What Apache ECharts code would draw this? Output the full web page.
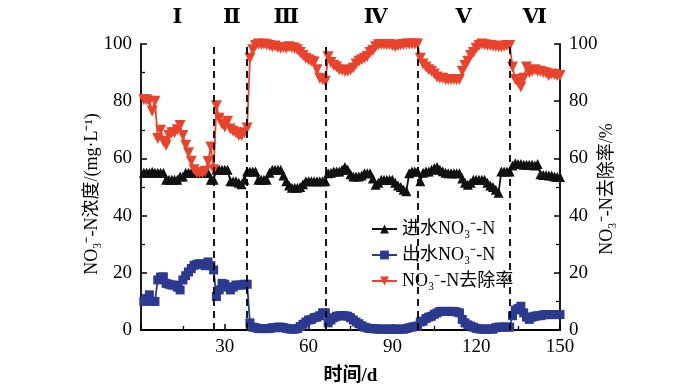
<!DOCTYPE html>
<html>
<head>
<meta charset="utf-8">
<script src="https://cdn.jsdelivr.net/npm/echarts@6/dist/echarts.min.js"></script>
<style>html,body{margin:0;padding:0;background:#fff}#c{width:700px;height:391px}</style>
</head>
<body>
<div id="c"></div>
<script>
// Days 1..150
var days = [];
for (var i = 1; i <= 150; i++) days.push(i);

// Influent NO3--N (mg/L)
var influent = [
55,55,55,55.3,55,55,55,55,52.5,52.5, 52.5,52.5,52.5,53.7,53.7,55,55,55,55,55,
55,55,55,55,52.5,52.5,56,56,56,56, 56,52,52,52,51.5,51,52.5,55.4,55.4,55.4,
55.4,52.5,52.5,52.5,52.5,55,56,56,56,56, 54,52,50.5,49.7,49.7,49.7,50,51,52,52,
52,52,52,52,52,52,54.8,55,55.4,55.4, 55.4,56,57,56,54.5,53.7,53.7,53.7,54,54.8,
54.8,54.8,53,50.8,51.5,52.5,52.5,52.5,52.5,52.5, 51.5,50.5,50,49,48.5,54.8,55.4,55.4,55.4,52,
55,55.4,55.4,56,56.6,57,56,55.5,55,54.8, 54.8,54.8,54.8,54.8,53,51.5,50.8,51.5,52.5,52.5,
52.5,52.5,52.5,51.5,50.5,50,49,48,55.4,55.4, 55.4,55.4,57.5,58.3,58,58,57.8,57.8,57.8,57.8,
57.5,58,54.5,54.2,54.2,54,54,53.7,53.5,53.5
];

// Effluent NO3--N (mg/L)
var effluent = [
10,11,12.3,10,10,17.5,18.5,18.6,16.3,16, 15.7,15.7,15,14,17.5,19,20.3,21.5,22.6,23,
23.2,23,22.5,23.8,22.5,21,11.7,14,16.3,16, 15,14,15,15.7,15.7,15.7,16,16,2.5,1,
0.8,0.5,0.5,0.5,0.5,0.5,0.8,0.8,1,1, 0.8,0.6,0.4,0.3,0.3,0.5,1.2,2,2.8,3.5,
3.7,4.3,4.5,5,6,6,2.5,3.5,4.3,4.8, 5,5,5,4.8,4.3,3.5,2.8,2.2,1.5,1,
0.7,0.5,0.5,0.4,0.3,0.3,0.3,0.3,0.3,0.3, 0.3,0.3,0.3,0.3,0.5,0.8,1,1.2,1.4,2.8,
3.1,4,4.5,4.8,5.5,6,6.5,6.5,6.5,6.5, 6.5,6.5,6.3,6,3.7,2.5,1.8,1.4,1,0.6,
0.4,0.3,0.3,0.3,0.3,0.3,0.8,1,1,1, 1,1,5,7,7.5,8.3,6,4.5,3.7,4.5,
4.8,5,5,5.3,5.4,5.4,5.4,5.4,5.4,5.4
];

// NO3--N removal rate (%)
var removal = [
80.5,80.5,80,76.5,80,67,69.8,66,64.6,68, 69,69,70,71.5,68,64.6,62,59,56,55,
55,55,55.5,58.9,64,56,78.4,74,72,71, 73,70.3,69.5,69,68,68,69,70.6,95,98,
99.5,100,99.8,100,99.7,99.5,99,99.3,98.8,98.5, 98.8,98.5,99,98.7,98.5,98,97,96,95,94.5,
94,93.7,91,88,87.6,87,95.5,93.5,92.5,92, 91,90.8,90.5,90.5,91,91.6,93,94,94.5,95,
95.6,97,97.7,99,99.7,99.8,99.8,99.7,99.8,99.5, 99,99.5,99.7,99.8,100,100,100,100,100,95,
93,92,91,90.5,89.5,88.5,88,88,87.6,87.6, 87.6,87.6,87.6,87.6,90.5,92.5,94,96,97,98.5,
99.5,100,99.7,99.6,99.5,99.3,99.2,99,99,99.2, 99.5,99.5,92,87.6,86.5,85,88,92,90,90.5,
91,90.5,90.5,90,89.9,89,89.5,89.3,89,89
];

// Phase boundaries (days) and phase labels
var phaseLines = [26, 38, 66, 99, 132];
var phaseLabels = ['Ⅰ', 'Ⅱ', 'Ⅲ', 'Ⅳ', 'Ⅴ', 'Ⅵ'];
var phaseLabelDays = [13, 32.5, 52, 84, 115.5, 141];

var xTicks = [0, 30, 60, 90, 120, 150];
var yTicks = [0, 20, 40, 60, 80, 100];

var seriesNames = ['进水NO\u2083\u207B-N', '出水NO\u2083\u207B-N', 'NO\u2083\u207B-N去除率'];
var leftAxisName = 'NO\u2083\u207B-N浓度/(mg·L\u207B\u00B9)';
var rightAxisName = 'NO\u2083\u207B-N去除率/%';

function pairs(vals) {
  return days.map(function (d, i) { return [d, vals[i]]; });
}

var serif = '"Liberation Serif", "Times New Roman", "Noto Sans CJK SC", serif';
var romanFont = '"DejaVu Serif", "Liberation Serif", serif';
var chart = echarts.init(document.getElementById('c'), null, { renderer: 'canvas' });

function yAxisCfg(pos) {
  return {
    type: 'value', position: pos, min: yTicks[0], max: yTicks[yTicks.length - 1], interval: 20,
    axisLine: { show: true, lineStyle: { color: '#000', width: 1.8 } },
    axisTick: { show: true, inside: true, length: 6, lineStyle: { color: '#000', width: 1.5 } },
    minorTick: { show: true, splitNumber: 2, length: 4, lineStyle: { color: '#000', width: 1.3 } },
    axisLabel: { fontFamily: serif, fontSize: 19, color: '#000', margin: 9 },
    splitLine: { show: false }
  };
}

var option = {
  animation: false,
  backgroundColor: '#fff',
  grid: { left: 141, right: 140, top: 44, bottom: 57 },
  legend: {
    orient: 'vertical', left: 366, top: 215, itemGap: 8, itemWidth: 25, itemHeight: 11,
    textStyle: { fontFamily: serif, fontSize: 18, color: '#000' },
    data: seriesNames
  },
  xAxis: {
    type: 'value', min: xTicks[0], max: xTicks[xTicks.length - 1], interval: 30,
    name: '时间/d', nameLocation: 'middle', nameGap: 37,
    nameTextStyle: { fontFamily: serif, fontSize: 19, fontWeight: 'bold', color: '#000' },
    axisLine: { show: true, lineStyle: { color: '#000', width: 1.8 } },
    axisTick: { show: true, inside: true, length: 6, lineStyle: { color: '#000', width: 1.5 } },
    minorTick: { show: true, splitNumber: 2, length: 4, lineStyle: { color: '#000', width: 1.3 } },
    axisLabel: { fontFamily: serif, fontSize: 19, color: '#000', margin: 8, showMinLabel: false },
    splitLine: { show: false }
  },
  yAxis: [yAxisCfg('left'), yAxisCfg('right')],
  series: [
    {
      name: seriesNames[0], type: 'line', yAxisIndex: 0, data: pairs(influent),
      symbol: 'triangle', symbolSize: 10, color: '#111',
      lineStyle: { color: '#111', width: 1.8 }, itemStyle: { color: '#111' },
      markLine: {
        silent: true, symbol: 'none', label: { show: false },
        lineStyle: { color: '#000', type: [7, 5], width: 1.8 },
        data: phaseLines.map(function (d) { return { xAxis: d }; })
      }
    },
    {
      name: seriesNames[1], type: 'line', yAxisIndex: 0, data: pairs(effluent),
      symbol: 'rect', symbolSize: 9, color: '#2b3a8e',
      lineStyle: { color: '#2b3a8e', width: 1.8 }, itemStyle: { color: '#2b3a8e' }
    },
    {
      name: seriesNames[2], type: 'line', yAxisIndex: 1, data: pairs(removal),
      symbol: 'triangle', symbolRotate: 180, symbolSize: 11, color: '#e8432d',
      lineStyle: { color: '#e8432d', width: 1.8 }, itemStyle: { color: '#e8432d' }
    }
  ]
};
chart.setOption(option);

var gfx = phaseLabels.map(function (t, i) {
  var px = chart.convertToPixel({ xAxisIndex: 0 }, phaseLabelDays[i]);
  return {
    type: 'text', x: px, y: 18,
    style: { text: t, fontFamily: romanFont, fontSize: 21, fontWeight: 'bold', fill: '#000', align: 'center', verticalAlign: 'middle' }
  };
});
var xLeft = chart.convertToPixel({ xAxisIndex: 0 }, xTicks[0]);
var xRight = chart.convertToPixel({ xAxisIndex: 0 }, xTicks[xTicks.length - 1]);
var yMid = chart.convertToPixel({ yAxisIndex: 0 }, 50);
gfx.push({
  type: 'text', x: xLeft - 49, y: yMid + 7, rotation: Math.PI / 2,
  style: { text: leftAxisName, fontFamily: serif, fontSize: 18, fill: '#000', align: 'center', verticalAlign: 'middle' }
});
gfx.push({
  type: 'text', x: xRight + 47, y: yMid + 2, rotation: Math.PI / 2,
  style: { text: rightAxisName, fontFamily: serif, fontSize: 18, fill: '#000', align: 'center', verticalAlign: 'middle' }
});
chart.setOption({ graphic: gfx });
</script>
</body>
</html>
